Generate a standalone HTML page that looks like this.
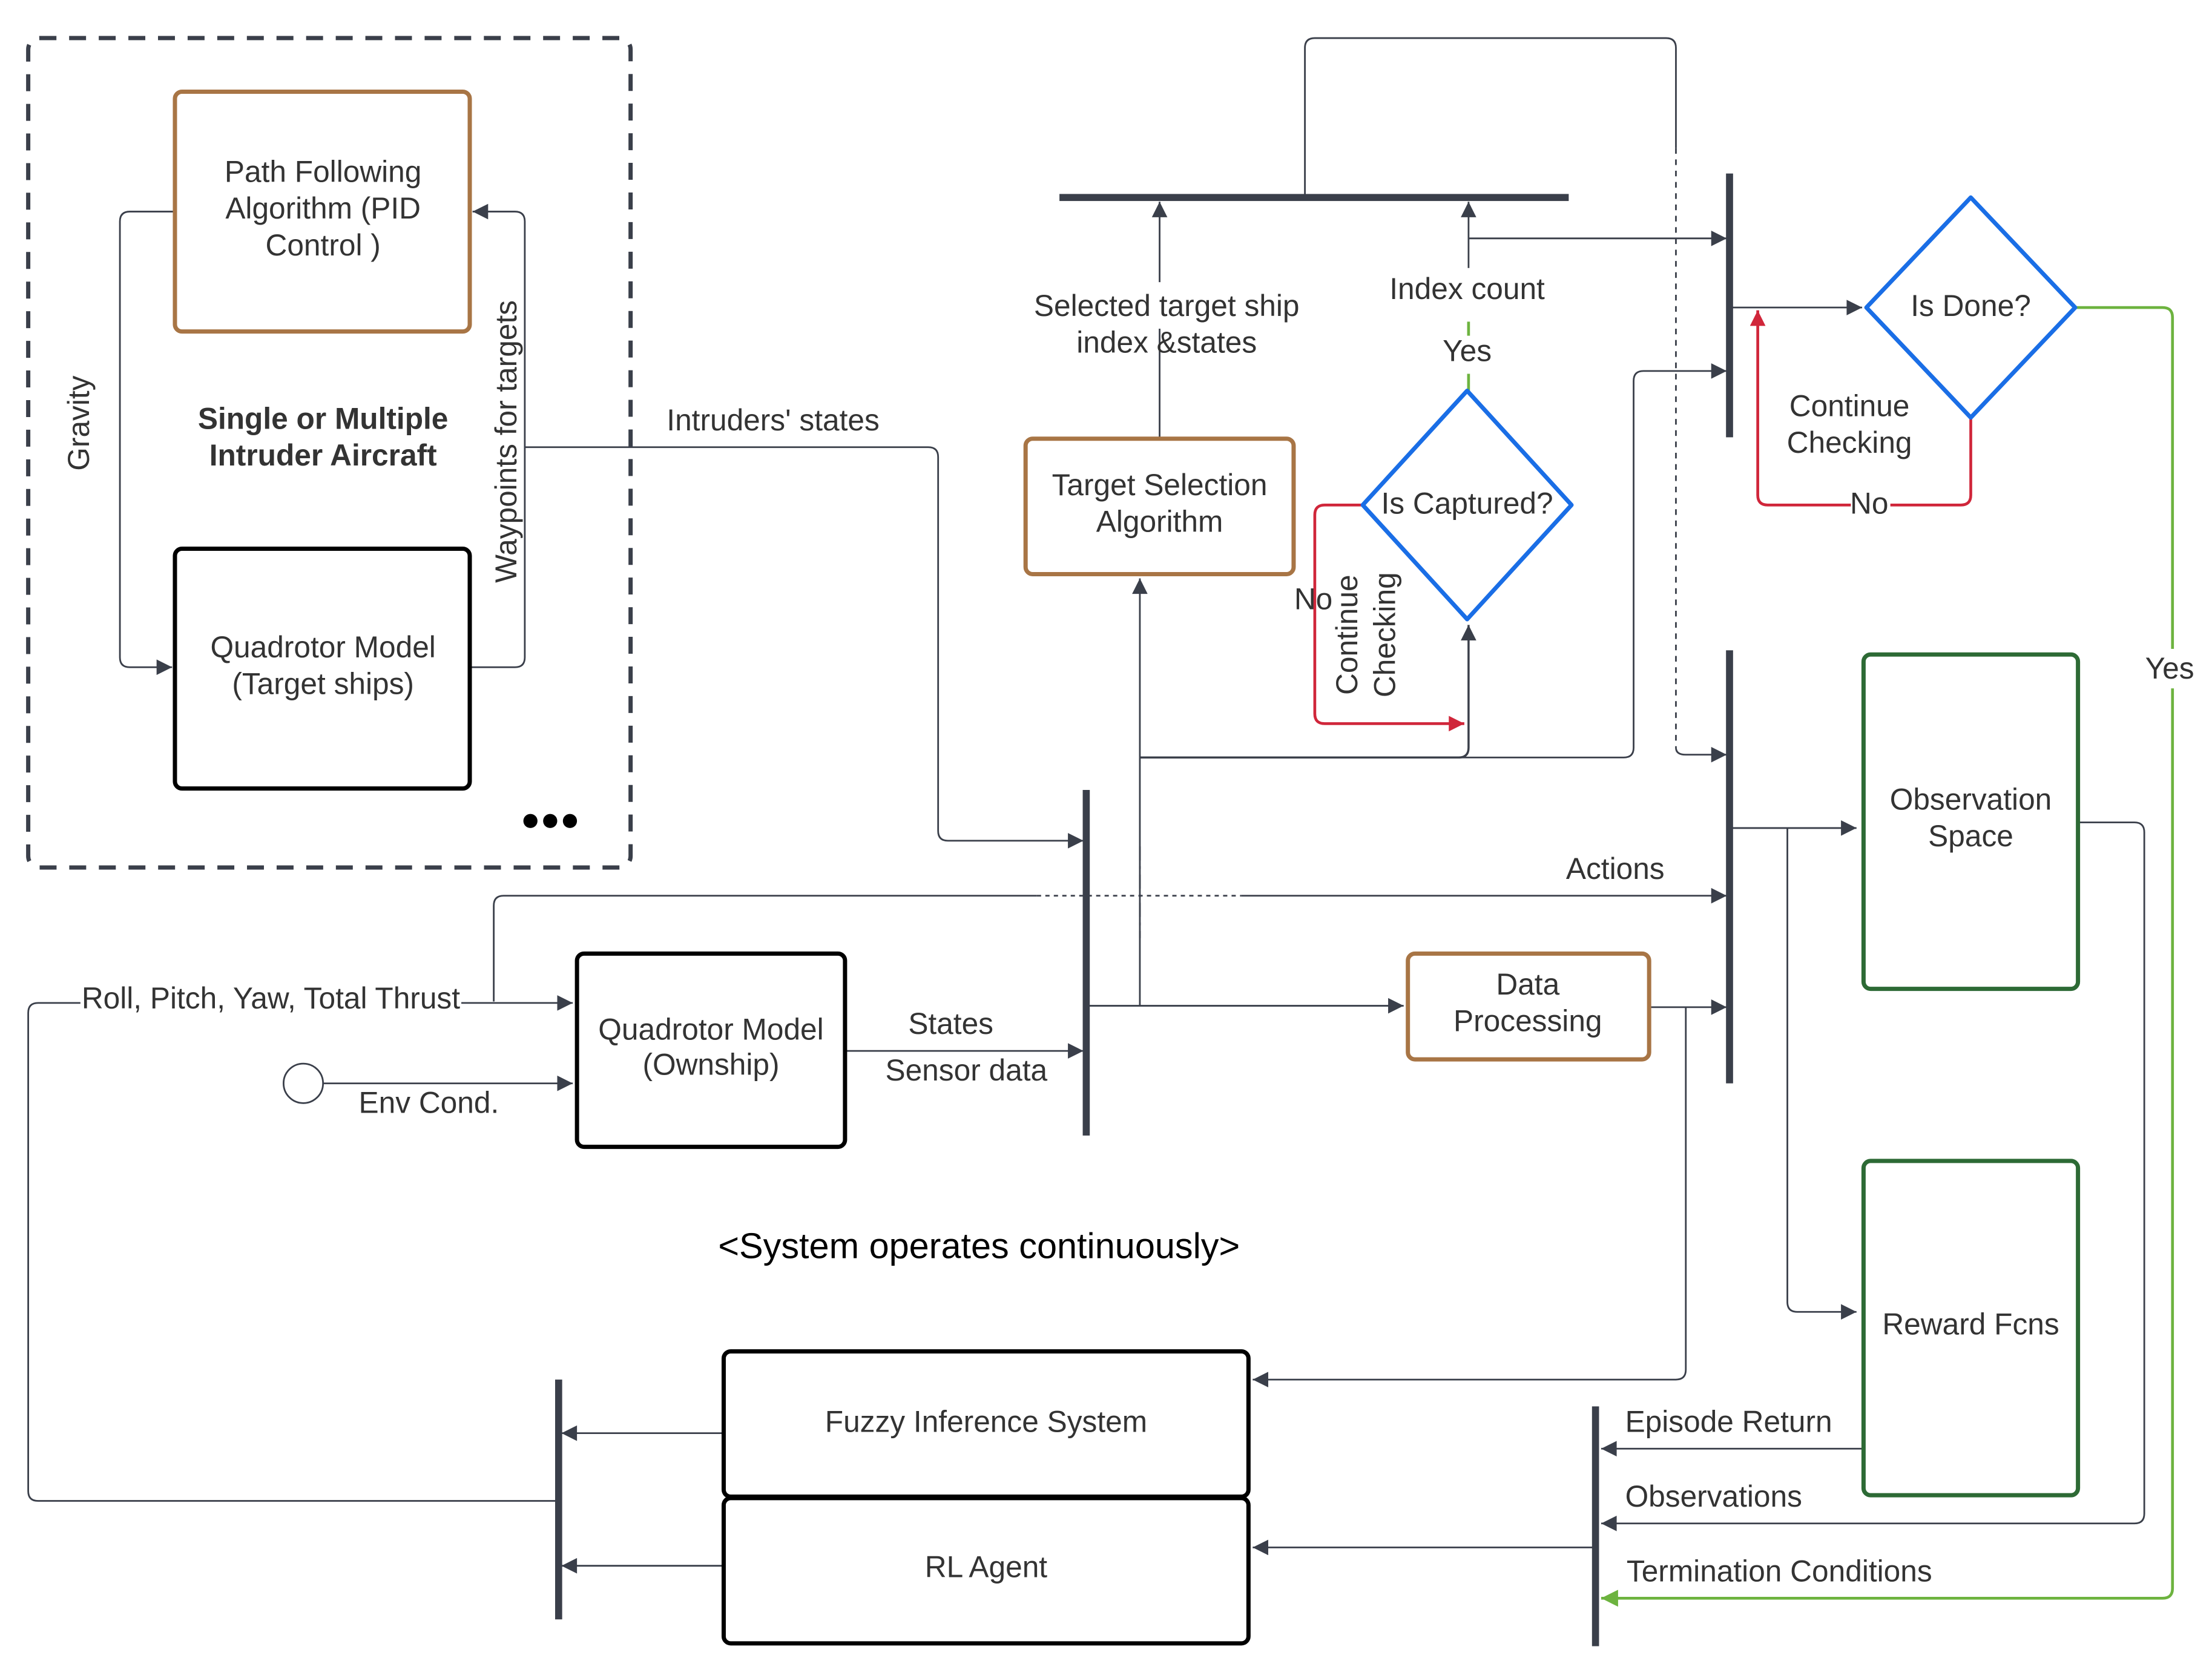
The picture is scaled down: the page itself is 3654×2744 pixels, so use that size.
<!DOCTYPE html>
<html><head><meta charset="utf-8">
<style>
html,body{margin:0;padding:0;background:#fff;}
svg{display:block;}
text{font-family:"Liberation Sans",sans-serif;fill:#333;font-size:21.3px;}
</style></head>
<body>
<svg width="3654" height="2744" viewBox="0 0 1568 1177.5" xmlns="http://www.w3.org/2000/svg">
<defs>
<marker id="a" viewBox="0 0 10 10" refX="10" refY="5" markerWidth="12" markerHeight="11" orient="auto-start-reverse" markerUnits="userSpaceOnUse"><path d="M0,0 L10,5 L0,10 z" fill="#3a3f4a"/></marker>
<marker id="ar" viewBox="0 0 10 10" refX="10" refY="5" markerWidth="16" markerHeight="11" orient="auto" markerUnits="userSpaceOnUse"><path d="M0,0 L10,5 L0,10 z" fill="#d0263a"/></marker>
<marker id="ag" viewBox="0 0 10 10" refX="10" refY="5" markerWidth="16" markerHeight="12" orient="auto" markerUnits="userSpaceOnUse"><path d="M0,0 L10,5 L0,10 z" fill="#6db33f"/></marker>
</defs>
<g fill="none" stroke="#3a3f4a" stroke-width="1.2">
<rect x="20" y="27" width="427" height="588" rx="8" stroke-width="3" stroke-dasharray="12,9"/>
<path d="M124,150 H92 Q85,150 85,157 V466 Q85,473 92,473 H122" marker-end="url(#a)"/>
<path d="M333,473 H365 Q372,473 372,466 V157 Q372,150 365,150 H335" marker-end="url(#a)"/>
<path d="M372,317 H658 Q665,317 665,324 V589 Q665,596 672,596 H768" marker-end="url(#a)"/>
<path d="M925,140 V34 Q925,27 932,27 H1181 Q1188,27 1188,34 V105"/>
<path d="M1188,105 V530" stroke-dasharray="4,4"/>
<path d="M1188,530 Q1188,535 1195,535 H1224" marker-end="url(#a)"/>
<path d="M822,310 V233"/><path d="M822,200 V143" marker-end="url(#a)"/>
<path d="M1041,190 V143" marker-end="url(#a)"/>
<path d="M1041,169 H1224" marker-end="url(#a)"/>
<path d="M808,713 V410" marker-end="url(#a)"/>
<path d="M808,537 H1034 Q1041,537 1041,530 V443" marker-end="url(#a)" stroke-width="1.5"/>
<path d="M1034,537 H1151 Q1158,537 1158,530 V270 Q1158,263 1165,263 H1224" marker-end="url(#a)"/>
<path d="M1226,218 H1320" marker-end="url(#a)"/>
<path d="M1226,587 H1316" marker-end="url(#a)"/>
<path d="M1267,587 V923 Q1267,930 1274,930 H1316" marker-end="url(#a)"/>
<path d="M1473,583 H1513 Q1520,583 1520,590 V1073 Q1520,1080 1513,1080 H1135" marker-end="url(#a)"/>
<path d="M1321,1027 H1135" marker-end="url(#a)"/>
<path d="M1131,1097 H888" marker-end="url(#a)"/>
<path d="M350,710 V642 Q350,635 357,635 H735"/>
<path d="M735,635 H880" stroke-dasharray="3,3"/>
<path d="M880,635 H1224" marker-end="url(#a)"/>
<path d="M808,600 V665" stroke-dasharray="10,4,2,4"/>
<path d="M396,1064 H27 Q20,1064 20,1057 V718 Q20,711 27,711 H406" marker-end="url(#a)"/>
<circle cx="215" cy="768" r="14"/>
<path d="M229,768 H406" marker-end="url(#a)"/>
<path d="M599,745 H768" marker-end="url(#a)"/>
<path d="M770,713 H995" marker-end="url(#a)"/>
<path d="M1169,714 H1224" marker-end="url(#a)"/>
<path d="M1195,714 V971 Q1195,978 1188,978 H888" marker-end="url(#a)"/>
<path d="M513,1016 H398" marker-end="url(#a)"/>
<path d="M513,1110 H398" marker-end="url(#a)"/>
</g>
<g fill="none" stroke-width="2">
<path d="M966,358 H939 Q932,358 932,365 V506 Q932,513 939,513 H1038" stroke="#d0263a" marker-end="url(#ar)"/>
<path d="M1397,296 V351 Q1397,358 1390,358 H1253 Q1246,358 1246,351 V220" stroke="#d0263a" marker-end="url(#ar)"/>
<path d="M1471,218 H1533 Q1540,218 1540,225 V1126 Q1540,1133 1533,1133 H1135" stroke="#6db33f" marker-end="url(#ag)"/>
<path d="M1041,228 V238 M1041,265 V278" stroke="#6db33f"/>
</g>
<g fill="#3a3f4a">
<rect x="751" y="137.5" width="361" height="5"/>
<rect x="767.5" y="560" width="5" height="245"/>
<rect x="1223.5" y="123" width="5" height="187"/>
<rect x="1223.5" y="461" width="5" height="307"/>
<rect x="1128.5" y="997" width="5" height="170"/>
<rect x="393.5" y="978" width="5" height="170"/>
<circle cx="376" cy="582" r="5" fill="#000"/><circle cx="390" cy="582" r="5" fill="#000"/><circle cx="404" cy="582" r="5" fill="#000"/>
</g>
<g fill="#fff" stroke-width="3">
<rect x="124" y="65" width="209" height="170" rx="5" stroke="#a87545"/>
<rect x="124" y="389" width="209" height="170" rx="5" stroke="#000"/>
<rect x="727" y="311" width="190" height="96" rx="5" stroke="#a87545"/>
<rect x="998" y="676" width="171" height="75" rx="5" stroke="#a87545"/>
<rect x="409" y="676" width="190" height="137" rx="5" stroke="#000"/>
<rect x="1321" y="464" width="152" height="237" rx="5" stroke="#2d6a35"/>
<rect x="1321" y="823" width="152" height="237" rx="5" stroke="#2d6a35"/>
<rect x="513" y="958" width="372" height="103" rx="5" stroke="#000"/>
<rect x="513" y="1062" width="372" height="103" rx="5" stroke="#000"/>
<path d="M1040,277 L1114,358 L1040,439 L966,358 Z" stroke="#1a6ee6" stroke-linejoin="round"/>
<path d="M1397,140 L1471,218 L1397,296 L1323,218 Z" stroke="#1a6ee6" stroke-linejoin="round"/>
</g>
<g text-anchor="middle">
<text x="229" y="129">Path Following</text>
<text x="229" y="155">Algorithm (PID</text>
<text x="229" y="181">Control )</text>
<text x="229" y="304" font-weight="bold">Single or Multiple</text>
<text x="229" y="330" font-weight="bold">Intruder Aircraft</text>
<text x="229" y="466">Quadrotor Model</text>
<text x="229" y="492">(Target ships)</text>
<text transform="translate(63,300) rotate(-90)">Gravity</text>
<text transform="translate(366,313) rotate(-90)">Waypoints for targets</text>
<text x="548" y="305">Intruders' states</text>
<text x="827" y="224">Selected target ship</text>
<text x="827" y="250">index &amp;states</text>
<text x="1040" y="212">Index count</text>
<text x="1040" y="256">Yes</text>
<text x="822" y="351">Target Selection</text>
<text x="822" y="377">Algorithm</text>
<text x="1040" y="364">Is Captured?</text>
<text x="1397" y="224">Is Done?</text>
<text x="931" y="432">No</text>
<text transform="translate(962,450) rotate(-90)">Continue</text>
<text transform="translate(989,450) rotate(-90)">Checking</text>
<text x="1311" y="295">Continue</text>
<text x="1311" y="321">Checking</text>
<rect x="1312" y="347" width="28" height="20" fill="#fff"/>
<text x="1325" y="364">No</text>
<rect x="1522" y="460" width="34" height="28" fill="#fff"/>
<text x="1538" y="481">Yes</text>
<text x="1397" y="574">Observation</text>
<text x="1397" y="600">Space</text>
<text x="1397" y="946">Reward Fcns</text>
<text x="1145" y="623">Actions</text>
<rect x="57" y="698" width="270" height="24" fill="#fff"/>
<text x="192" y="715">Roll, Pitch, Yaw, Total Thrust</text>
<text x="304" y="789">Env Cond.</text>
<text x="504" y="737">Quadrotor Model</text>
<text x="504" y="762">(Ownship)</text>
<text x="674" y="733">States</text>
<text x="685" y="766">Sensor data</text>
<text x="1083" y="705">Data</text>
<text x="1083" y="731">Processing</text>
<text x="694" y="892" style="font-size:25.5px;fill:#000">&lt;System operates continuously&gt;</text>
<text x="699" y="1015">Fuzzy Inference System</text>
<text x="699" y="1118">RL Agent</text>
</g>
<g text-anchor="start">
<text x="1152" y="1015">Episode Return</text>
<text x="1152" y="1068">Observations</text>
<text x="1153" y="1121">Termination Conditions</text>
</g>
</svg>
</body></html>
